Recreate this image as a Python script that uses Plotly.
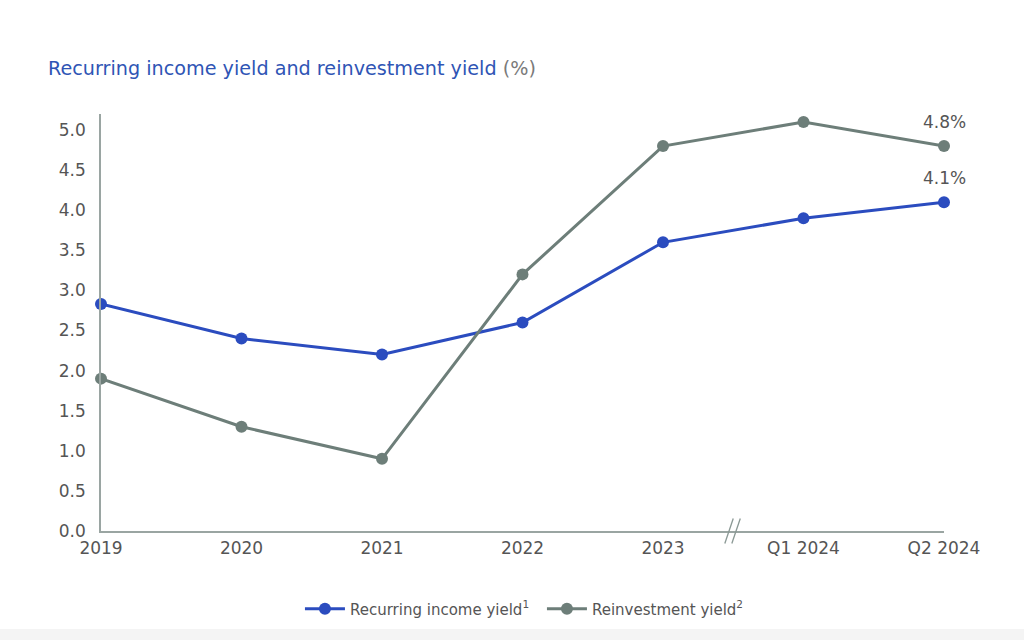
import plotly.graph_objects as go

categories = ["2019", "2020", "2021", "2022", "2023", "Q1 2024", "Q2 2024"]
recurring_income = [2.83, 2.4, 2.2, 2.6, 3.6, 3.9, 4.1]
reinvestment = [1.9, 1.3, 0.9, 3.2, 4.8, 5.1, 4.8]
y_ticks = [0.0, 0.5, 1.0, 1.5, 2.0, 2.5, 3.0, 3.5, 4.0, 4.5, 5.0]

BLUE = "#2b4cbf"
GRAY = "#6d7e79"
TXT = "#555555"
FONT = "DejaVu Sans"

xs = list(range(len(categories)))

fig = go.Figure()
fig.add_trace(go.Scatter(
    x=xs, y=recurring_income, mode="lines+markers",
    name="Recurring income yield<sup>1</sup>",
    line=dict(color=BLUE, width=3), marker=dict(color=BLUE, size=12),
    cliponaxis=False,
))
fig.add_trace(go.Scatter(
    x=xs, y=reinvestment, mode="lines+markers",
    name="Reinvestment yield<sup>2</sup>",
    line=dict(color=GRAY, width=3), marker=dict(color=GRAY, size=12),
    cliponaxis=False,
))

# end labels
fig.add_annotation(x=xs[-1], y=reinvestment[-1], text=f"{reinvestment[-1]:.1f}%",
                   showarrow=False, yshift=24, font=dict(size=17, color=TXT, family=FONT))
fig.add_annotation(x=xs[-1], y=recurring_income[-1], text=f"{recurring_income[-1]:.1f}%",
                   showarrow=False, yshift=24, font=dict(size=17, color=TXT, family=FONT))

# axis break marker between 2023 and Q1 2024
brk = (xs[4] + xs[5]) / 2
for dx in (-0.03, 0.02):
    fig.add_shape(type="line", xref="x", yref="paper",
                  x0=brk + dx - 0.03, x1=brk + dx + 0.03, y0=-0.03, y1=0.03,
                  line=dict(color="#8a9894", width=1.3))

# bottom light strip
fig.add_shape(type="rect", xref="paper", yref="paper", x0=-0.2, x1=1.2,
              y0=-0.27, y1=-0.235, fillcolor="#f4f4f4", line=dict(width=0), layer="below")

fig.update_layout(
    width=1024, height=640,
    margin=dict(l=101, r=80, t=114, b=109),
    paper_bgcolor="white", plot_bgcolor="white",
    font=dict(family=FONT, color=TXT),
    title=dict(
        text="Recurring income yield and reinvestment yield <span style='color:#7a7a7a'>(%)</span>",
        x=48 / 1024, xanchor="left", y=1 - 68 / 640, yanchor="middle",
        font=dict(size=19.2, color="#2f55b5", family=FONT),
    ),
    showlegend=True,
    legend=dict(orientation="h", x=0.236, xanchor="left", y=-0.187, yanchor="middle",
                font=dict(size=15, color=TXT, family=FONT), itemwidth=40,
                entrywidth=187, entrywidthmode="pixels"),
    xaxis=dict(
        range=[0, 6], tickvals=xs, ticktext=categories, showgrid=False,
        showline=True, linecolor="#9aa5a2", linewidth=1.5, ticks="", zeroline=False,
        tickfont=dict(size=17, color=TXT, family=FONT), ticklabelstandoff=1,
    ),
    yaxis=dict(
        range=[0, 5.2], tickvals=y_ticks, ticktext=[f"{v:.1f}" for v in y_ticks],
        showgrid=False, showline=True, linecolor="#9aa5a2", linewidth=1.5, ticks="",
        zeroline=False, tickfont=dict(size=17, color=TXT, family=FONT), ticklabelstandoff=10,
    ),
)

fig.write_html("out.html")
